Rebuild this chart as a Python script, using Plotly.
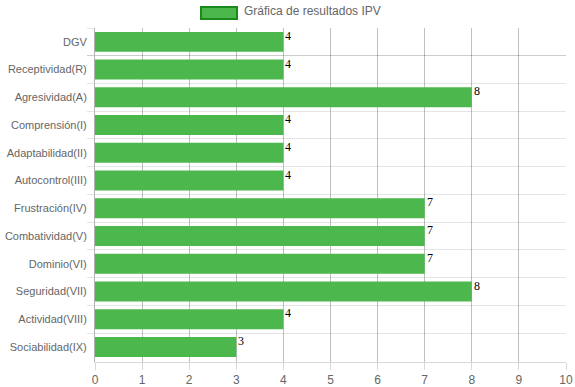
import plotly.graph_objects as go

categories = ["DGV", "Receptividad(R)", "Agresividad(A)", "Comprensión(I)", "Adaptabilidad(II)",
              "Autocontrol(III)", "Frustración(IV)", "Combatividad(V)", "Dominio(VI)",
              "Seguridad(VII)", "Actividad(VIII)", "Sociabilidad(IX)"]
values = [4, 4, 8, 4, 4, 4, 7, 7, 7, 8, 4, 3]
series_name = "Gráfica de resultados IPV"
x_ticks = list(range(0, 11))

bar_color = "#4cb74c"
border_color = "#1a8a1a"

fig = go.Figure()
fig.add_trace(go.Bar(
    y=categories, x=values, orientation="h", name=series_name,
    marker=dict(color=bar_color, line=dict(width=0)),
    width=0.72, showlegend=False, hoverinfo="x+y",
))

annotations = []
for c, v in zip(categories, values):
    annotations.append(dict(x=v, y=c, xref="x", yref="y", text=str(v), showarrow=False,
                            xanchor="left", yanchor="middle", xshift=0, yshift=6,
                            font=dict(family="Liberation Serif", size=12, color="#000")))

# legend drawn manually (Chart.js style wide box)
annotations.append(dict(x=(242 - 95) / 471, y=1, xref="paper", yref="paper", yanchor="bottom", yshift=8,
                        xanchor="left", text=series_name, showarrow=False,
                        font=dict(family="Liberation Sans, Arial, sans-serif", size=12, color="#666")))

fig.update_layout(
    width=575, height=387,
    margin=dict(l=95, r=9, t=28, b=25),
    paper_bgcolor="white", plot_bgcolor="white",
    annotations=annotations,
    shapes=[dict(type="rect", xref="paper", yref="paper",
                 x0=(201 - 95) / 471, x1=(237 - 95) / 471,
                 y0=1 + (28 - 19) / 334, y1=1 + (28 - 7) / 334,
                 fillcolor=bar_color, line=dict(color=border_color, width=2))],
    font=dict(family="Liberation Sans, Arial, sans-serif", size=12, color="#666"),
)
fig.update_xaxes(range=[0, 10], tickvals=x_ticks, showgrid=True, gridcolor="rgba(0,0,0,0.25)",
                 gridwidth=1, zeroline=False, showline=True, linecolor="rgba(0,0,0,0.15)",
                 ticks="outside", ticklen=7, tickcolor="rgba(0,0,0,0.15)", automargin=False,
                 tickfont=dict(size=12, color="#666"), fixedrange=True)
fig.update_yaxes(autorange="reversed", tickson="boundaries", showgrid=True,
                 gridcolor="rgba(0,0,0,0.1)", showline=True, linecolor="rgba(0,0,0,0.3)",
                 ticks="outside", ticklen=7, tickcolor="rgba(0,0,0,0.1)", automargin=False,
                 ticklabelstandoff=5,
                 tickfont=dict(size=11, color="#666"), fixedrange=True)

fig.write_html("out.html", config={"displayModeBar": False})
